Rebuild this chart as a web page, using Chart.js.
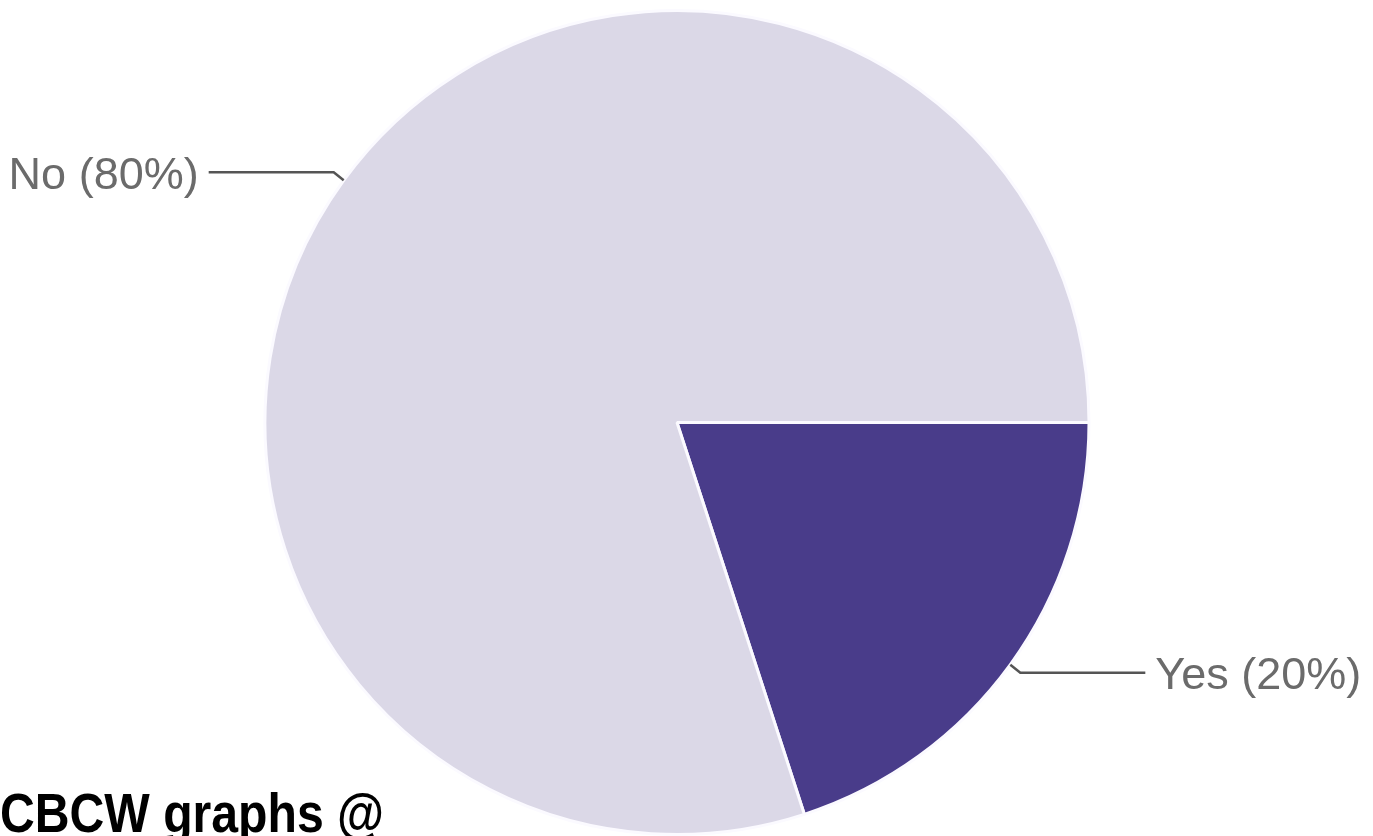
<!DOCTYPE html>
<html>
<head>
<meta charset="utf-8">
<script src="https://cdn.jsdelivr.net/npm/chart.js@4/dist/chart.umd.min.js"></script>
<style>
  html, body { margin: 0; padding: 0; background: #fff; overflow: hidden; }
  #wrap { position: relative; width: 1373px; height: 836px; }
  #chart { position: absolute; left: 0; top: 0; }
  #caption {
    position: absolute; left: 0; top: 785px;
    font: bold 56px "Liberation Sans", Arial, sans-serif;
    line-height: 1; color: #000; white-space: nowrap;
    transform: scaleX(0.86); transform-origin: 0 0;
  }
</style>
</head>
<body>
<div id="wrap">
  <canvas id="chart" width="1373" height="836"></canvas>
  <div id="caption">CBCW graphs @</div>
</div>
<script>
const labels = ["Yes", "No"];
const values = [20, 80];
const colors = ["#493c8a", "#dbd8e7"];

// leader lines + "Label (xx%)" text, google-forms style
const calloutPlugin = {
  id: "callouts",
  afterDraw(chart) {
    const ctx = chart.ctx;
    const meta = chart.getDatasetMeta(0);
    const total = values.reduce((a, b) => a + b, 0);
    ctx.save();
    ctx.strokeStyle = "#555";
    ctx.lineWidth = 2.5;
    ctx.fillStyle = "#6b6b6b";
    ctx.font = '45px "Liberation Sans", Arial, sans-serif';
    ctx.textBaseline = "middle";
    meta.data.forEach((arc, i) => {
      const p = arc.getProps(["x", "y", "startAngle", "endAngle", "outerRadius"], true);
      const mid = (p.startAngle + p.endAngle) / 2;
      const cos = Math.cos(mid), sin = Math.sin(mid);
      const ax = p.x + cos * p.outerRadius;
      const ay = p.y + sin * p.outerRadius;
      const dir = cos < 0 ? -1 : 1;
      const bx = ax + dir * 10;
      const by = ay + (sin < 0 ? -8 : 8);
      const ex = bx + dir * 125;
      ctx.beginPath();
      ctx.moveTo(ax, ay);
      ctx.lineTo(bx, by);
      ctx.lineTo(ex, by);
      ctx.stroke();
      const pct = Math.round(values[i] / total * 100);
      ctx.textAlign = dir < 0 ? "right" : "left";
      ctx.fillText(`${labels[i]} (${pct}%)`, ex + dir * 10, by + 4);
    });
    ctx.restore();
  },
};

new Chart(document.getElementById("chart"), {
  type: "pie",
  data: {
    labels: labels,
    datasets: [
      {
        data: values,
        backgroundColor: colors,
        borderColor: "#fbfaff",
        borderWidth: 3,
      },
    ],
  },
  options: {
    responsive: false,
    animation: false,
    rotation: 90,
    layout: { padding: { left: 263, right: 282, top: 9, bottom: 0 } },
    plugins: { legend: { display: false }, tooltip: { enabled: false } },
  },
  plugins: [calloutPlugin],
});
</script>
</body>
</html>
